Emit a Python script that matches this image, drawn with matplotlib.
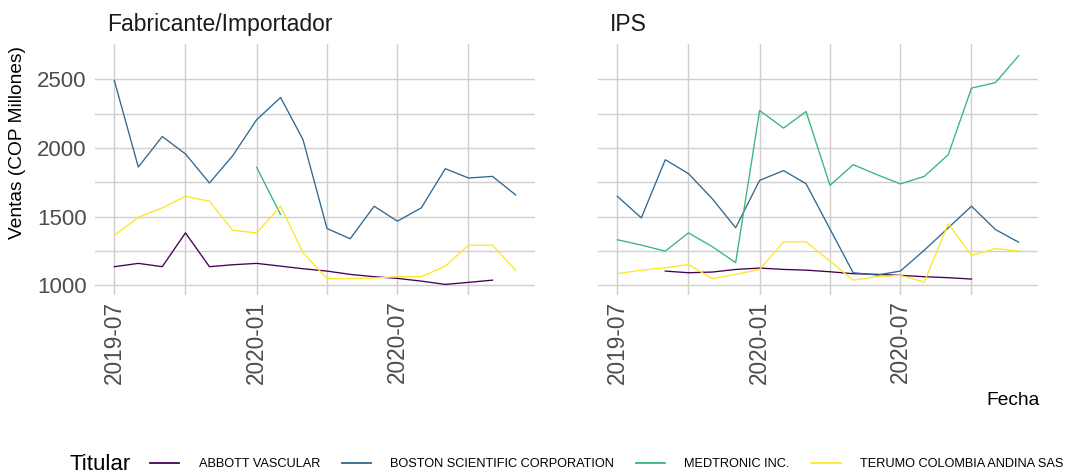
import numpy as np
import pandas as pd
import matplotlib
matplotlib.use('Agg')
import matplotlib.pyplot as plt
import matplotlib.dates as mdates
from matplotlib.lines import Line2D

plt.rcParams['font.family'] = ['Liberation Sans', 'DejaVu Sans']

nan = np.nan
fechas = pd.date_range('2019-07-01', '2020-12-01', freq='MS')
titulares = ['ABBOTT VASCULAR', 'BOSTON SCIENTIFIC CORPORATION', 'MEDTRONIC INC.', 'TERUMO COLOMBIA ANDINA SAS']
colores = ['#440154', '#31688E', '#35B779', '#FDE725']
paneles = ['Fabricante/Importador', 'IPS']

# Fabricante/Importador (COP millones)
fab_abbott = [1136, 1160, 1136, 1382, 1136, 1150, 1160, 1140, 1121, 1104, 1080, 1063, 1051, 1031, 1007, 1022, 1038, nan]
fab_boston = [2490, 1861, 2083, 1956, 1745, 1943, 2205, 2367, 2060, 1414, 1339, 1576, 1467, 1564, 1849, 1781, 1793, 1658]
fab_medtronic = [nan, nan, nan, nan, nan, nan, 1859, 1515, nan, nan, nan, nan, nan, nan, nan, nan, nan, nan]
fab_terumo = [1363, 1496, 1564, 1648, 1612, 1401, 1382, 1576, 1237, 1049, 1049, 1053, 1063, 1063, 1140, 1292, 1292, 1109]

# IPS (COP millones)
ips_abbott = [nan, nan, 1104, 1092, 1097, 1116, 1126, 1116, 1111, 1099, 1085, 1080, 1073, 1063, 1056, 1046, nan, nan]
ips_boston = [1648, 1491, 1914, 1813, 1629, 1419, 1764, 1835, 1740, 1410, 1092, 1075, 1104, 1256, 1419, 1576, 1406, 1314]
ips_medtronic = [1332, 1293, 1249, 1382, 1281, 1165, 2272, 2144, 2265, 1728, 1878, 1805, 1738, 1793, 1951, 2435, 2475, 2671]
ips_terumo = [1085, 1111, 1128, 1152, 1049, 1080, 1116, 1317, 1317, 1176, 1038, 1063, 1073, 1024, 1450, 1218, 1268, 1249]

datos = {
    'Fabricante/Importador': [fab_abbott, fab_boston, fab_medtronic, fab_terumo],
    'IPS': [ips_abbott, ips_boston, ips_medtronic, ips_terumo],
}

W, H = 1069, 473
fig = plt.figure(figsize=(W / 100, H / 100), dpi=100)


def axes_px(x0, y0, x1, y1):
    return fig.add_axes([x0 / W, 1 - y1 / H, (x1 - x0) / W, (y1 - y0) / H])


cajas = [(95, 44, 535, 295), (598, 44, 1038, 295)]
xmin = fechas[0] - pd.Timedelta(days=25)
xmax = fechas[-1] + pd.Timedelta(days=25)
major_x = pd.to_datetime(['2019-07-01', '2020-01-01', '2020-07-01'])
minor_x = pd.to_datetime(['2019-10-01', '2020-04-01', '2020-10-01'])

for i, panel in enumerate(paneles):
    ax = axes_px(*cajas[i])
    for serie, color in zip(datos[panel], colores):
        ax.plot(fechas, serie, color=color, lw=0.95, zorder=3)

    ax.set_xlim(xmin, xmax)
    ax.set_ylim(930, 2756)
    ax.set_xticks(major_x)
    ax.set_xticks(minor_x, minor=True)
    ax.xaxis.set_major_formatter(mdates.DateFormatter('%Y-%m'))
    ax.set_yticks([1000, 1500, 2000, 2500])
    ax.set_yticks([1250, 1750, 2250], minor=True)
    ax.grid(which='both', color='#d0d0d0', lw=1.05)
    ax.set_axisbelow(True)
    for s in ax.spines.values():
        s.set_visible(False)
    ax.tick_params(which='both', length=0)
    ax.tick_params(axis='x', labelrotation=90, pad=4, labelsize=16.3, labelcolor='#4d4d4d')
    ax.tick_params(axis='y', pad=6, labelsize=16, labelcolor='#4d4d4d')
    if i == 1:
        ax.tick_params(axis='y', labelleft=False)
    ax.text(12 / 440, (295 - 31) / 251, panel, transform=ax.transAxes,
            fontsize=16.5, color='#1a1a1a', va='baseline', ha='left')

fig.text(18 / W, 1 - 142 / H, 'Ventas (COP Millones)', rotation=90,
         ha='center', va='center', fontsize=13.8)
fig.text(1040 / W, 1 - 400 / H, 'Fecha', ha='right', va='center', fontsize=13.8)

fig.text(70 / W, 1 - 464 / H, 'Titular', ha='left', va='center', fontsize=16)
handles = [Line2D([0], [0], color=c, lw=1.3) for c in colores]
fig.legend(handles, titulares, loc='center left', bbox_to_anchor=(150 / W, 1 - 464 / H),
           ncol=4, frameon=False, fontsize=9.2, handlelength=2.3, handletextpad=1.5,
           columnspacing=1.7, borderaxespad=0, borderpad=0)

fig.savefig('out.png', dpi=100)
